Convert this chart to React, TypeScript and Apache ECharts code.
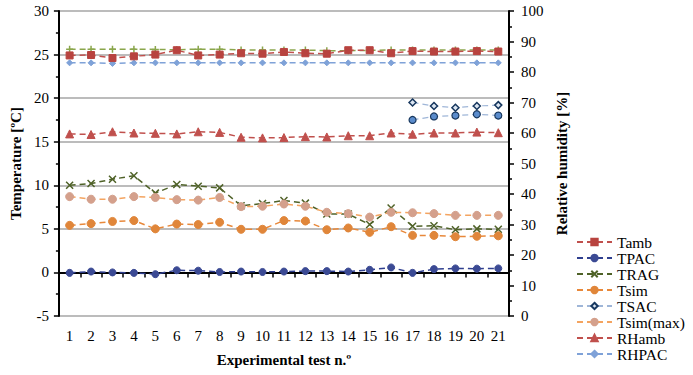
import React, { useEffect, useRef } from "react";
import * as echarts from "echarts";

const categories = ["1","2","3","4","5","6","7","8","9","10","11","12","13","14","15","16","17","18","19","20","21"];

// Left axis (temperature, ºC)
const tamb = [24.9, 24.95, 24.6, 24.8, 25.0, 25.5, 24.9, 25.0, 25.15, 25.1, 25.3, 25.15, 25.1, 25.5, 25.5, 25.15, 25.4, 25.35, 25.35, 25.4, 25.35];
const tpac = [-0.05, 0.1, 0, -0.05, -0.2, 0.25, 0.2, 0.05, 0.1, 0.05, 0.1, 0.15, 0.15, 0.1, 0.3, 0.57, -0.05, 0.38, 0.46, 0.43, 0.46];
const trag = [10.0, 10.2, 10.7, 11.1, 9.1, 10.1, 9.9, 9.7, 7.65, 7.9, 8.25, 7.95, 6.7, 6.7, 5.5, 7.4, 5.3, 5.35, 4.9, 5.0, 4.95];
const tsim = [5.4, 5.6, 5.85, 5.95, 5.0, 5.55, 5.5, 5.75, 4.95, 4.95, 5.95, 5.9, 4.9, 5.1, 4.6, 5.25, 4.25, 4.25, 4.1, 4.15, 4.2];
const tsac = [null, null, null, null, null, null, null, null, null, null, null, null, null, null, null, null, 19.5, 19.1, 18.9, 19.1, 19.2];
const tsac2 = [null, null, null, null, null, null, null, null, null, null, null, null, null, null, null, null, 17.5, 17.9, 18.0, 18.15, 18.0];
const tsimMax = [8.7, 8.4, 8.4, 8.7, 8.6, 8.35, 8.3, 8.6, 7.55, 7.6, 7.85, 7.6, 6.9, 6.75, 6.35, 6.9, 6.85, 6.75, 6.55, 6.55, 6.55];

// Right axis (relative humidity, %)
const rhamb = [59.7, 59.5, 60.4, 60.0, 59.9, 59.7, 60.4, 60.2, 58.6, 58.4, 58.5, 58.8, 58.7, 59.1, 59.1, 60.0, 59.6, 60.0, 60.0, 60.3, 60.1];
const rhpac = [83.0, 83.0, 82.8, 83.0, 83.0, 83.0, 83.0, 83.0, 83.0, 83.0, 83.0, 83.0, 83.0, 83.0, 83.0, 83.0, 83.0, 83.0, 83.0, 83.0, 83.0];
const rhrag = [87.5, 87.5, 87.5, 87.5, 87.4, 87.3, 87.5, 87.5, 87.2, 87.2, 87.2, 87.2, 87.0, 87.0, 87.1, 87.2, 87.2, 87.2, 87.2, 87.2, 87.2];

const legendNames = ["Tamb", "TPAC", "TRAG", "Tsim", "TSAC", "Tsim(max)", "RHamb", "RHPAC"];

const FONT = "'Liberation Serif', 'Times New Roman', serif";
const X_SYMBOL = "path://M0,0L10,10M10,0L0,10";
const PLUS_SYMBOL = "path://M5,0L5,10M0,5L10,5";

function mk(name: string, data: (number | null)[], opts: any) {
  return {
    name,
    type: "line",
    data,
    yAxisIndex: opts.y || 0,
    symbol: opts.symbol,
    symbolSize: opts.size || 7,
    showSymbol: true,
    connectNulls: false,
    lineStyle: { color: opts.line, width: opts.width || 1.5, type: [6, 4] },
    itemStyle: {
      color: opts.fill,
      borderColor: opts.border || opts.fill,
      borderWidth: opts.bw ?? 1,
    },
    z: opts.z || 2,
  };
}

export default function App() {
  const ref = useRef<HTMLDivElement>(null);
  useEffect(() => {
    if (!ref.current) return;
    const chart = echarts.init(ref.current, null, { renderer: "svg" });
    chart.setOption({
      animation: false,
      textStyle: { fontFamily: FONT },
      grid: { left: 53, right: 184, top: 11, bottom: 59 },
      legend: {
        data: legendNames,
        orient: "vertical",
        left: 571,
        top: 229,
        itemWidth: 35,
        itemHeight: 8,
        itemGap: 0,
        textStyle: { fontFamily: FONT, fontSize: 15.5, color: "#000" },
      },
      xAxis: {
        type: "category",
        data: categories,
        boundaryGap: true,
        name: "Experimental test n.º",
        nameLocation: "middle",
        nameGap: 36,
        nameTextStyle: { fontFamily: FONT, fontSize: 15, fontWeight: "bold", color: "#000" },
        axisLine: { show: true, lineStyle: { color: "#000", width: 2 } },
        axisTick: { show: true, alignWithLabel: false, length: 5, lineStyle: { color: "#000", width: 1.5 } },
        axisLabel: { fontFamily: FONT, fontSize: 15, color: "#000", margin: 12 },
        splitLine: { show: false },
      },
      yAxis: [
        {
          type: "value",
          min: -5,
          max: 30,
          interval: 5,
          name: "Temperature [ºC]",
          nameLocation: "middle",
          nameGap: 33,
          nameTextStyle: { fontFamily: FONT, fontSize: 15, fontWeight: "bold", color: "#000" },
          axisLine: { show: true, lineStyle: { color: "#000", width: 2 } },
          axisTick: { show: true, length: 5, lineStyle: { color: "#000", width: 1.5 } },
          minorTick: { show: true, splitNumber: 2, length: 3, lineStyle: { color: "#000", width: 1.5 } },
          axisLabel: { fontFamily: FONT, fontSize: 15, color: "#000", margin: 10 },
          splitLine: { show: true, lineStyle: { color: "#a6a6a6", width: 1.5 } },
        },
        {
          type: "value",
          min: 0,
          max: 100,
          interval: 10,
          position: "right",
          name: "Relative humidity [%]",
          nameLocation: "middle",
          nameGap: 44,
          nameTextStyle: { fontFamily: FONT, fontSize: 15, fontWeight: "bold", color: "#000" },
          axisLine: { show: true, lineStyle: { color: "#000", width: 2 } },
          axisTick: { show: true, length: 5, lineStyle: { color: "#000", width: 1.5 } },
          minorTick: { show: true, splitNumber: 2, length: 3, lineStyle: { color: "#000", width: 1.5 } },
          axisLabel: { fontFamily: FONT, fontSize: 15, color: "#000", margin: 12 },
          splitLine: { show: false },
        },
      ],
      series: [
        mk("RHRAG", rhrag, { y: 1, symbol: PLUS_SYMBOL, size: 7, line: "#8aa64c", fill: "#8aa64c", bw: 1.5 }),
        mk("RHPAC", rhpac, { y: 1, symbol: "diamond", size: 6, line: "#7fa2d8", fill: "#7fa2d8" }),
        mk("Tamb", tamb, { symbol: "rect", size: 7, line: "#c0504d", fill: "#b8433f", z: 3 }),
        mk("RHamb", rhamb, { y: 1, symbol: "triangle", size: 8, line: "#c0504d", fill: "#c0504d" }),
        mk("TSAC", tsac, { symbol: "diamond", size: 7, line: "#9fb6d8", fill: "#dce6f2", border: "#17375e", bw: 1.5, width: 1.2 }),
        mk("TSAC2", tsac2, { symbol: "circle", size: 7, line: "#9fb6d8", fill: "#5b8ccc", border: "#17375e", bw: 1.2, width: 1.2 }),
        mk("TRAG", trag, { symbol: X_SYMBOL, size: 7, line: "#4f6228", fill: "#4f6228", bw: 1.5 }),
        mk("Tsim(max)", tsimMax, { symbol: "circle", size: 8, line: "#f4a460", fill: "#d4a08c" }),
        mk("Tsim", tsim, { symbol: "circle", size: 8, line: "#e8883a", fill: "#e0863a" }),
        mk("TPAC", tpac, { symbol: "circle", size: 7, line: "#2f3f8f", fill: "#3b4a94" }),
      ],
    });
    return () => chart.dispose();
  }, []);
  return (
    <div
      ref={ref}
      style={{ position: "fixed", left: 0, top: 0, width: 693, height: 375, background: "#fff" }}
    />
  );
}
